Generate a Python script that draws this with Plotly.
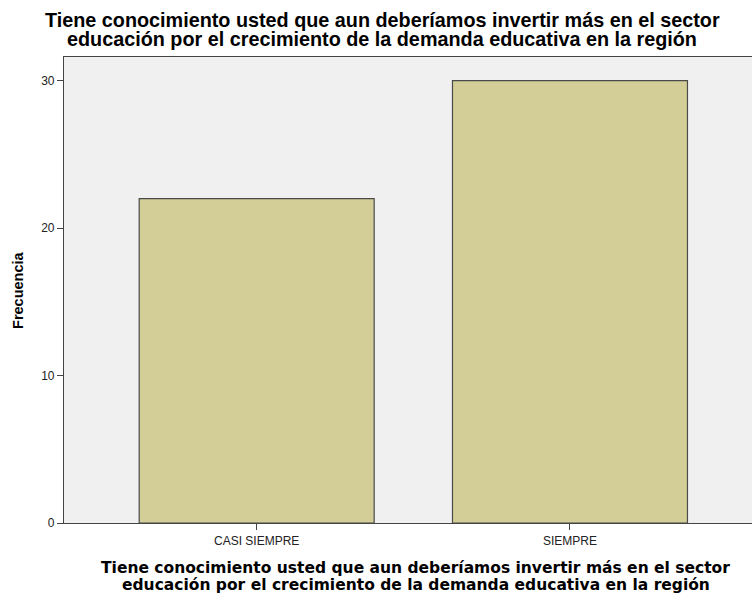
import plotly.graph_objects as go

categories = ["CASI SIEMPRE", "SIEMPRE"]
values = [22, 30]
y_ticks = [0, 10, 20, 30]

title_lines = ["Tiene conocimiento usted que aun deberíamos invertir más en el sector",
               "educación por el crecimiento de la demanda educativa en la región"]
y_title = "Frecuencia"

fig = go.Figure()
fig.add_trace(go.Bar(
    x=[0, 1], y=values, width=0.75,
    marker=dict(color="#D3CE97", line=dict(color="#4a4a4a", width=1.2)),
    hoverinfo="skip",
))

annotations = []
# chart title (two lines)
for txt, yp in zip(title_lines, [1.0794, 1.0376]):
    annotations.append(dict(text="<b>" + txt + "</b>", xref="paper", yref="paper", x=0.4629, y=yp,
                            xanchor="center", yanchor="middle", showarrow=False,
                            font=dict(family="Liberation Sans, Arial", size=19.8, color="#000000")))
# x axis title (two lines)
for txt, yp in zip(title_lines, [-0.0966, -0.133]):
    annotations.append(dict(text="<b>" + txt + "</b>", xref="paper", yref="paper", x=0.5116, y=yp,
                            xanchor="center", yanchor="middle", showarrow=False,
                            font=dict(family="DejaVu Sans", size=15.5, color="#000000")))
# y axis title
annotations.append(dict(text="<b>" + y_title + "</b>", xref="paper", yref="paper",
                        x=-0.0669, y=0.5, xanchor="center", yanchor="middle",
                        textangle=-90, showarrow=False,
                        font=dict(family="Liberation Sans, Arial", size=14.5, color="#000000")))

fig.update_layout(
    width=752, height=598,
    margin=dict(l=64, r=0, t=57, b=75),
    paper_bgcolor="white", plot_bgcolor="#F0F0F0",
    showlegend=False,
    annotations=annotations,
)
fig.update_xaxes(
    range=[-0.615, 1.581], tickmode="array", tickvals=[0, 1], ticktext=categories,
    showgrid=False, zeroline=False, showline=True, linecolor="#444444", linewidth=1.2,
    mirror=True, ticks="outside", ticklen=6, tickcolor="#444444",
    tickfont=dict(family="Liberation Sans, Arial", size=12, color="#222222"),
)
fig.update_yaxes(
    range=[0, 31.6], tickvals=y_ticks, showgrid=False, zeroline=False,
    showline=True, linecolor="#444444", linewidth=1.2,
    ticks="outside", ticklen=6, tickcolor="#444444",
    tickfont=dict(family="Liberation Sans, Arial", size=12, color="#222222"),
)

fig.write_html("out.html", config={"displayModeBar": False},
               post_script="document.body.style.margin='0';document.body.style.overflow='hidden';")
